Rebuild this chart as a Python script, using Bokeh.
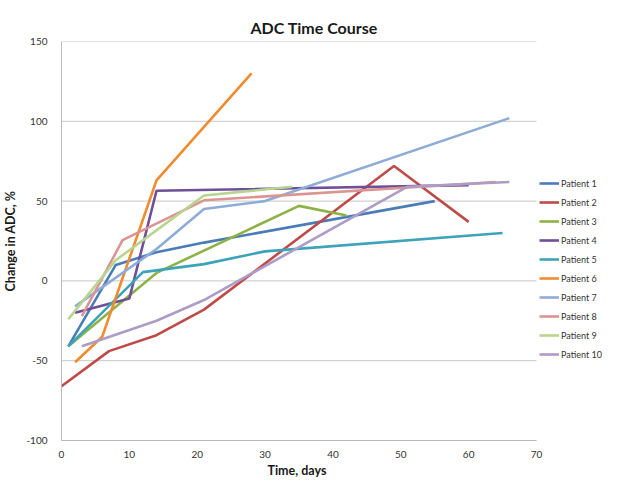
from bokeh.plotting import figure
from bokeh.models import Range1d, FixedTicker, Legend, LegendItem, PrintfTickFormatter, Title
from bokeh.embed import file_html
from bokeh.resources import INLINE

# ---- data ----
patients = ["Patient 1", "Patient 2", "Patient 3", "Patient 4", "Patient 5",
            "Patient 6", "Patient 7", "Patient 8", "Patient 9", "Patient 10"]

p1_days = [1, 8, 14, 21, 55]
p1_adc = [-41, 10, 18, 24, 50]
p2_days = [0, 7, 14, 21, 49, 60]
p2_adc = [-66, -44, -34, -18, 72, 37]
p3_days = [1, 14, 35, 42]
p3_adc = [-41, 5, 47, 41]
p4_days = [2, 10, 14, 60]
p4_adc = [-20, -11, 56.5, 60]
p5_days = [1, 12, 21, 30, 65]
p5_adc = [-41, 5.5, 10.5, 18.5, 30]
p6_days = [2, 6, 14, 28]
p6_adc = [-51, -35, 63, 130]
p7_days = [2, 14, 21, 30, 66]
p7_adc = [-16, 20, 45, 50, 102]
p8_days = [3, 9, 21, 64]
p8_adc = [-22, 25.5, 50.5, 62]
p9_days = [1, 8, 21, 34]
p9_adc = [-24, 13, 53.5, 59]
p10_days = [3, 14, 21, 51, 66]
p10_adc = [-41, -25, -12, 59, 62]

x_ticks = [0, 10, 20, 30, 40, 50, 60, 70]
y_ticks = [-100, -50, 0, 50, 100, 150]

colors = ["#4A7CB8", "#BE4B48", "#8DB347", "#6E4F98", "#3EA2B8",
          "#F28A2E", "#8EACD8", "#DA9593", "#B7D58E", "#AE9CC6"]

series = [(p1_days, p1_adc), (p2_days, p2_adc), (p3_days, p3_adc), (p4_days, p4_adc),
          (p5_days, p5_adc), (p6_days, p6_adc), (p7_days, p7_adc), (p8_days, p8_adc),
          (p9_days, p9_adc), (p10_days, p10_adc)]

FONT = "Lato"
FRAME_W = 545          # frame spans the plot area plus the legend column
PLOT_W = 475           # pixels used by the 0..70 day axis
x_end = x_ticks[-1] * FRAME_W / PLOT_W

p = figure(width=606, height=477, output_backend="svg", toolbar_location=None,
           x_range=Range1d(0, x_end), y_range=Range1d(y_ticks[0], y_ticks[-1]),
           min_border_left=53, min_border_top=41, min_border_right=0, min_border_bottom=0,
           title="ADC Time Course")

p.title.align = "left"
p.title.text_font = FONT
p.title.text_font_size = "16px"
p.title.text_font_style = "bold"
p.title.text_color = "#1A1A1A"
p.title.offset = 189

p.outline_line_color = None
p.background_fill_color = "white"
p.border_fill_color = "white"

p.xgrid.grid_line_color = None
p.ygrid.grid_line_color = None

# horizontal gridlines limited to the 0..70 day span
p.segment(x0=[x_ticks[0]] * len(y_ticks), x1=[x_ticks[-1]] * len(y_ticks),
          y0=y_ticks, y1=y_ticks, line_color="#C8C8C8", line_width=1)

p.xaxis.ticker = FixedTicker(ticks=x_ticks)
p.yaxis.ticker = FixedTicker(ticks=y_ticks)
p.xaxis.formatter = PrintfTickFormatter(format="%d")
p.yaxis.formatter = PrintfTickFormatter(format="%d")
p.xaxis.bounds = (x_ticks[0], x_ticks[-1])

for ax in (p.xaxis, p.yaxis):
    ax.axis_line_color = "#B8B8B8"
    ax.major_tick_line_color = None
    ax.minor_tick_line_color = None
    ax.major_label_text_font = FONT
    ax.major_label_text_font_size = "10px"
    ax.major_label_text_color = "#333333"
    ax.axis_label_text_font = FONT
    ax.axis_label_text_font_size = "12.5px"
    ax.axis_label_text_font_style = "bold"
    ax.axis_label_text_color = "#1A1A1A"

p.yaxis.axis_label = "Change in ADC, %"
p.xaxis.major_label_standoff = 4
p.yaxis.major_label_standoff = 8
p.yaxis.axis_label_standoff = 5

xlabel = Title(text="Time, days", align="left", offset=206, text_font=FONT,
               text_font_size="12.5px", text_font_style="bold", text_color="#1A1A1A",
               standoff=0)
p.add_layout(xlabel, "below")

items = []
for name, (xs, ys), c in zip(patients, series, colors):
    r = p.line(xs, ys, line_color=c, line_width=2.6)
    items.append(LegendItem(label=name, renderers=[r]))

legend = Legend(items=items, location=(PLOT_W + 3, 78))
legend.label_text_font = FONT
legend.label_text_font_size = "9px"
legend.label_text_color = "#333333"
legend.glyph_width = 20
legend.glyph_height = 16
legend.label_height = 16
legend.spacing = 3
legend.label_standoff = 2
legend.padding = 2
legend.margin = 0
legend.border_line_color = None
legend.background_fill_alpha = 0
p.add_layout(legend)

open("out.html", "w").write(file_html(p, INLINE))
